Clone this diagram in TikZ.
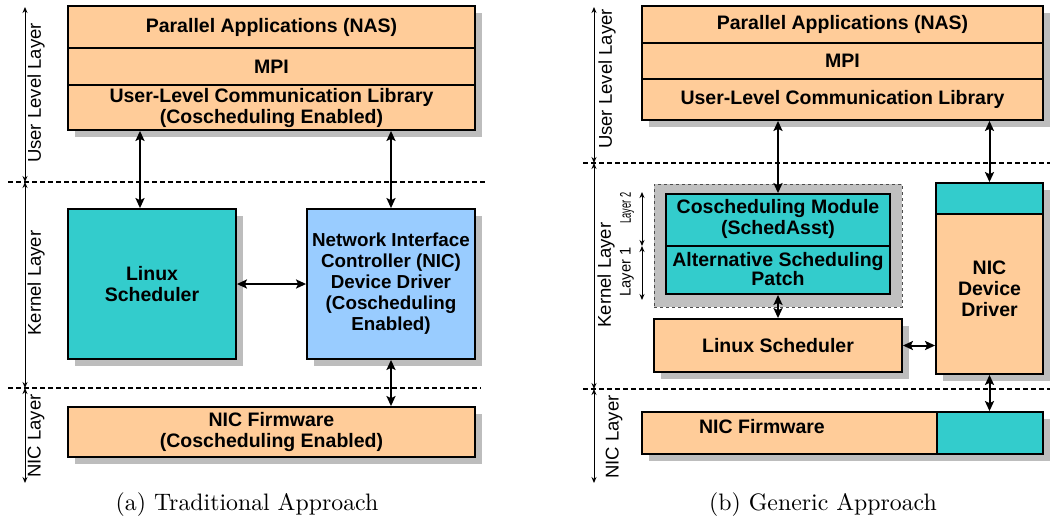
\documentclass[tikz,border=0pt]{standalone}
\usepackage{fontspec}
\newfontfamily\arial{Liberation Sans}
\usetikzlibrary{arrows.meta,shadows}
\definecolor{peach}{HTML}{FFCC99}
\definecolor{tealb}{HTML}{33CCCC}
\definecolor{lblue}{HTML}{99CCFF}
\definecolor{shadowgray}{HTML}{BDBDBD}
\definecolor{groupgray}{HTML}{C0C0C0}
\begin{document}
\begin{tikzpicture}[x=1pt,y=-1pt,
  box/.style={draw=black, line width=1.8pt, rectangle, inner sep=0pt, align=center,
    font=\arial\bfseries\fontsize{19.5}{21}\selectfont},
  shd/.style={drop shadow={shadow xshift=7pt, shadow yshift=-7pt, fill=shadowgray, opacity=1}},
  txt/.style={align=center, inner sep=0pt, font=\arial\bfseries\fontsize{19.5}{21}\selectfont},
  conn/.style={line width=2pt, {Stealth[length=10pt,width=9pt,inset=2pt]}-{Stealth[length=10pt,width=9pt,inset=2pt]}},
  layerarrow/.style={line width=0.9pt, {Stealth[length=6pt,width=5pt]}-{Stealth[length=6pt,width=5pt]}},
  dashline/.style={line width=1.5pt, dash pattern=on 4.5pt off 3.5pt},
  layerlabel/.style={rotate=90, inner sep=0pt, font=\arial\fontsize{18.5}{20}\selectfont},
  sublabel/.style={rotate=90, inner sep=0pt, font=\arial\fontsize{15.5}{17}\selectfont},
  caption/.style={inner sep=0pt, scale=2.38, font=\fontsize{10}{12}\selectfont}
]
\useasboundingbox (0,0) rectangle (1050,523);

% ================= (a) Traditional =================
\node[box, shd, fill=peach, minimum width=407pt, minimum height=124pt] (topA) at (271.5,68) {};
\node[box, fill=peach, minimum width=407pt, minimum height=42pt] (parA) at (271.5,27) {Parallel Applications (NAS)};
\node[box, fill=peach, minimum width=407pt, minimum height=37pt] (mpiA) at (271.5,66.5) {MPI};
\node[box, fill=peach, minimum width=407pt, minimum height=45pt] (ulA) at (271.5,107.5) {User-Level Communication Library\\(Coscheduling Enabled)};

\node[box, shd, fill=tealb, minimum width=168pt, minimum height=150pt] (lsA) at (152,284) {Linux\\Scheduler};
\node[box, shd, fill=lblue, minimum width=168pt, minimum height=150pt, font=\arial\bfseries\fontsize{18.8}{21}\selectfont] (nicA) at (391,284) {Network Interface\\Controller (NIC)\\Device Driver\\(Coscheduling\\Enabled)};
\node[box, shd, fill=peach, minimum width=407pt, minimum height=50pt] (fwA) at (271.5,432) {NIC Firmware\\(Coscheduling Enabled)};

\draw[conn] (ulA.south -| 140,0) -- (lsA.north -| 140,0);
\draw[conn] (ulA.south -| nicA.north) -- (nicA.north);
\draw[conn] (lsA.east) -- (nicA.west);
\draw[conn] (nicA.south) -- (fwA.north -| nicA.south);

\coordinate (dA1s) at (8,182);  \coordinate (dA1e) at (487,182);
\coordinate (dA2s) at (8,388);  \coordinate (dA2e) at (481,388);
\draw[dashline] (dA1s) -- (dA1e);
\draw[dashline] (dA2s) -- (dA2e);

\coordinate (lA0) at (25,7);
\coordinate (lA1) at (25,182);
\coordinate (lA2) at (25,388);
\coordinate (lA3) at (25,483);
\draw[layerarrow] (lA0) -- (lA1);
\draw[layerarrow] (lA1) -- (lA2);
\draw[layerarrow] (lA2) -- (lA3);
\node[layerlabel] (ullA) at (36,93) {User Level Layer};
\node[layerlabel] (klA) at (36,283) {Kernel Layer};
\node[layerlabel] (nlA) at (36,436) {NIC Layer};

\node[caption] (capA) at (247,505) {(a) Traditional Approach};

% ================= (b) Generic =================
\node[box, shd, fill=peach, minimum width=401pt, minimum height=114pt] (topB) at (842.5,63) {};
\node[box, fill=peach, minimum width=401pt, minimum height=37pt] (parB) at (842.5,24.5) {Parallel Applications (NAS)};
\node[box, fill=peach, minimum width=401pt, minimum height=36pt] (mpiB) at (842.5,61) {MPI};
\node[box, fill=peach, minimum width=401pt, minimum height=41pt] (ulB) at (842.5,99.5) {User-Level Communication Library};

\node[draw=black!70, dashed, line width=0.8pt, fill=groupgray, minimum width=248pt, minimum height=123pt, inner sep=0pt] (grpB) at (778,245.5) {};
\node[box, fill=tealb, minimum width=224pt, minimum height=52pt] (cosB) at (778,220) {};
\node[txt] (cosBt) at (778,219) {Coscheduling Module\\(SchedAsst)};
\node[box, fill=tealb, minimum width=224pt, minimum height=48pt] (altB) at (778,270) {};
\node[txt, font=\arial\bfseries\fontsize{19.5}{18}\selectfont] (altBt) at (778,269) {Alternative Scheduling\\Patch};

\node[box, shd, fill=peach, minimum width=248pt, minimum height=53pt] (lsB) at (778,345.5) {Linux Scheduler};

\node[box, shd, fill=peach, minimum width=107pt, minimum height=191pt] (drvB) at (989.5,278.5) {};
\node[box, fill=tealb, minimum width=107pt, minimum height=31pt] (drvtopB) at (989.5,198.5) {};
\node[txt] (drvBt) at (989.5,289) {NIC\\Device\\Driver};

\node[box, shd, fill=peach, minimum width=401pt, minimum height=42pt] (fwB) at (842.5,433) {};
\node[box, fill=tealb, minimum width=106pt, minimum height=42pt] (fwtealB) at (990,433) {};
\node[txt] (fwBt) at (762,427) {NIC Firmware};

\draw[conn] (ulB.south -| cosB.north) -- (cosB.north);
\draw[conn] (ulB.south -| drvB.north) -- (drvB.north);
\draw[conn] (altB.south) -- (lsB.north);
\draw[conn] (lsB.east) -- (drvB.west |- lsB.east);
\draw[conn] (drvB.south) -- (fwB.north -| drvB.south);

\coordinate (dB1s) at (583,163);  \coordinate (dB1e) at (1050,163);
\coordinate (dB2s) at (583,389);  \coordinate (dB2e) at (1050,389);
\draw[dashline] (dB1s) -- (dB1e);
\draw[dashline] (dB2s) -- (dB2e);

\coordinate (lB0) at (594,7);
\coordinate (lB1) at (594,163);
\coordinate (lB2) at (594,389);
\coordinate (lB3) at (594,483);
\draw[layerarrow] (lB0) -- (lB1);
\draw[layerarrow] (lB1) -- (lB2);
\draw[layerarrow] (lB2) -- (lB3);
\node[layerlabel] (ullB) at (607,79) {User Level Layer};
\node[layerlabel] (klB) at (606,275) {Kernel Layer};
\node[layerlabel] (nlB) at (614,437) {NIC Layer};

\coordinate (sB0) at (642,192);
\coordinate (sB1) at (642,246);
\coordinate (sB2) at (642,300);
\draw[layerarrow] (sB0) -- (sB1);
\draw[layerarrow] (sB1) -- (sB2);
\node[sublabel, xscale=0.6] (l2B) at (627,208) {Layer 2};
\node[sublabel, xscale=0.95] (l1B) at (627,272) {Layer 1};

\node[caption] (capB) at (823,505) {(b) Generic Approach};
\end{tikzpicture}
\end{document}
